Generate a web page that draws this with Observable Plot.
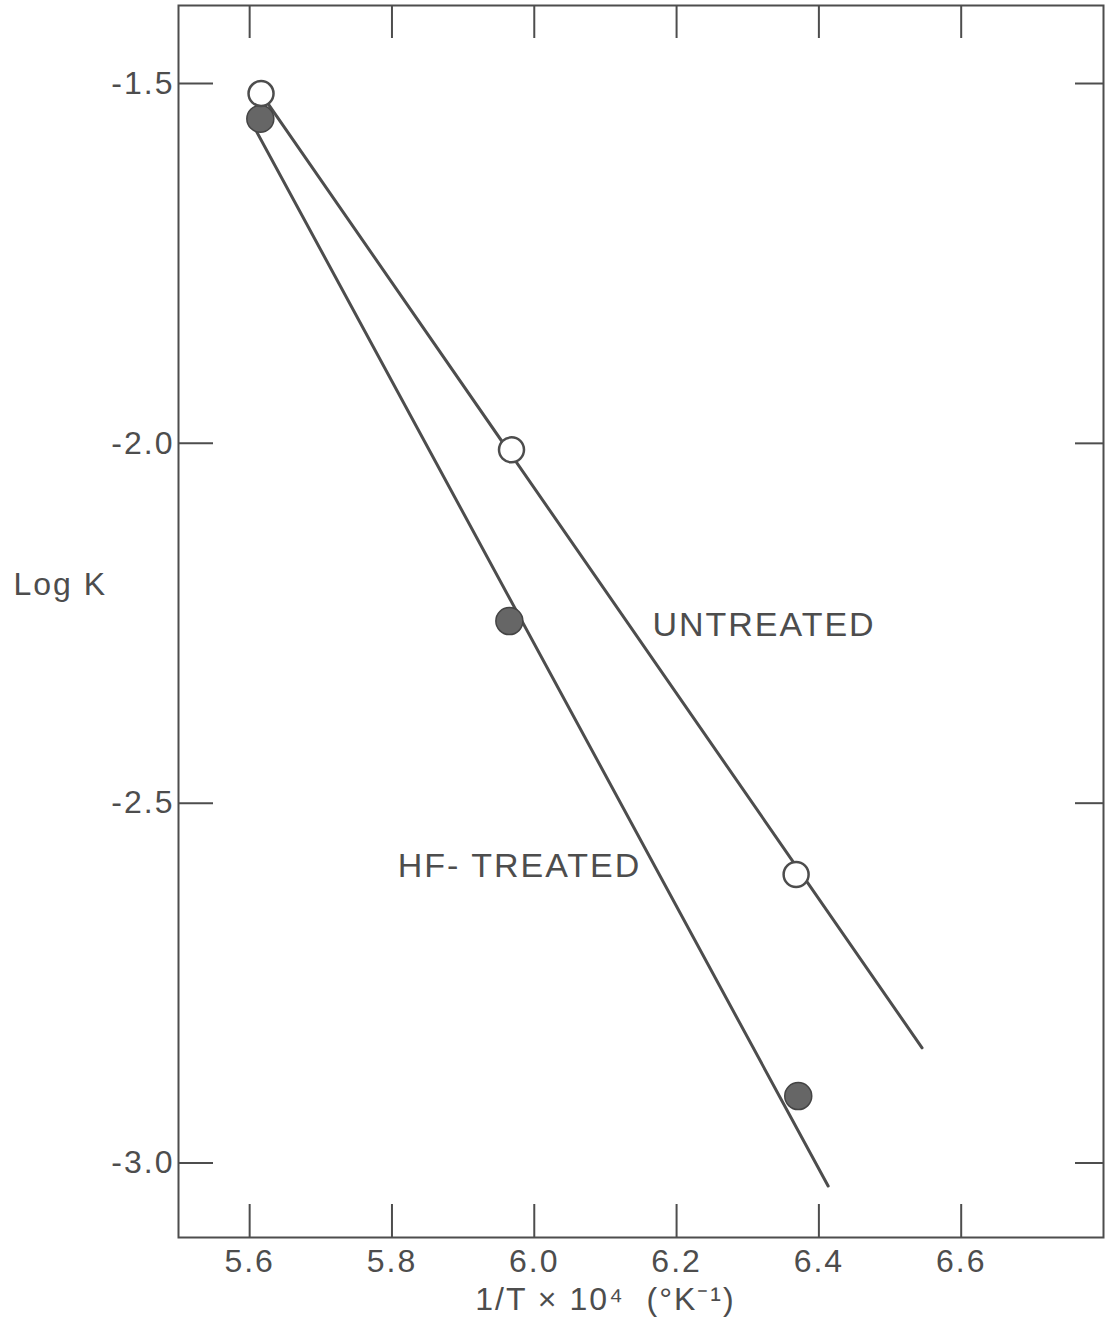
<!DOCTYPE html>
<html>
<head>
<meta charset="utf-8">
<script src="https://cdn.jsdelivr.net/npm/d3@7"></script>
<script src="https://cdn.jsdelivr.net/npm/@observablehq/plot@0.6"></script>
<style>
  html, body { margin: 0; padding: 0; background: #fff; }
  #chart svg text { letter-spacing: 2px; }
</style>
</head>
<body>
<div id="chart"></div>
<script>
// ---- data ----
const xTicks = [5.6, 5.8, 6.0, 6.2, 6.4, 6.6];
const yTicks = [-1.5, -2.0, -2.5, -3.0];

const untreatedInvT = [5.616, 5.968, 6.368];
const untreatedLogK = [-1.514, -2.009, -2.599];

const hfInvT = [5.615, 5.965, 6.371];
const hfLogK = [-1.549, -2.247, -2.907];

// drawn fit lines (end points)
const untreatedFitInvT = [5.616, 6.545];
const untreatedFitLogK = [-1.514, -2.840];
const hfFitInvT = [5.600, 6.413];
const hfFitLogK = [-1.549, -3.032];

const seriesNames = ["UNTREATED", "HF- TREATED"];
const seriesLabelInvT = [6.166, 5.808];
const seriesLabelLogK = [-2.252, -2.587];

const xLabel = "1/T × 10⁴  (°K⁻¹)";
const xLabelAt = [6.10];
const yLabel = "Log K";

// ---- build tables ----
const untreated = untreatedInvT.map((x, i) => ({x, y: untreatedLogK[i]}));
const hf = hfInvT.map((x, i) => ({x, y: hfLogK[i]}));
const untreatedFit = untreatedFitInvT.map((x, i) => ({x, y: untreatedFitLogK[i]}));
const hfFit = hfFitInvT.map((x, i) => ({x, y: hfFitLogK[i]}));
const labels = seriesNames.map((name, i) => ({name, x: seriesLabelInvT[i], y: seriesLabelLogK[i]}));

const W = 1105, H = 1332;
const mL = 178, mR = 2, mT = 5, mB = 95;
const pw = W - mL - mR, ph = H - mT - mB;
const ink = "#4d4d4d";

const chart = Plot.plot({
  width: W,
  height: H,
  marginLeft: mL,
  marginRight: mR,
  marginTop: mT,
  marginBottom: mB,
  style: {fontFamily: "Liberation Sans, Arial, sans-serif", fontSize: "32px", color: ink, background: "#fff"},
  x: {domain: [5.5, 6.8]},
  y: {domain: [-3.1035, -1.3916]},
  marks: [
    Plot.frame({stroke: ink, strokeWidth: 2}),
    // inward ticks on all four sides
    Plot.tickX(xTicks, {x: d => d, insetTop: ph - 33, stroke: ink, strokeWidth: 2}),
    Plot.tickX(xTicks, {x: d => d, insetBottom: ph - 33, stroke: ink, strokeWidth: 2}),
    Plot.tickY(yTicks, {y: d => d, insetRight: pw - 35, stroke: ink, strokeWidth: 2}),
    Plot.tickY(yTicks, {y: d => d, insetLeft: pw - 28, stroke: ink, strokeWidth: 2}),
    Plot.axisX({ticks: xTicks, tickSize: 0, tickPadding: 12, tickFormat: d => d.toFixed(1), label: null, fontSize: 32}),
    Plot.axisY({ticks: yTicks, tickSize: 0, tickPadding: 4, tickFormat: d => d.toFixed(1).replace("\u2212", "-"), label: null, fontSize: 32}),
    // fitted lines
    Plot.line(untreatedFit, {x: "x", y: "y", stroke: ink, strokeWidth: 3}),
    Plot.line(hfFit, {x: "x", y: "y", stroke: ink, strokeWidth: 3}),
    // points
    Plot.dot(hf, {x: "x", y: "y", r: 13.5, fill: "#666", stroke: "#444", strokeWidth: 1.5}),
    Plot.dot(untreated, {x: "x", y: "y", r: 12.5, fill: "#fff", stroke: ink, strokeWidth: 2.5}),
    // series labels
    Plot.text(labels, {x: "x", y: "y", text: "name", textAnchor: "start", fontSize: 34, fill: ink}),
    // axis titles
    Plot.text([xLabel], {x: xLabelAt, frameAnchor: "bottom", dy: 72, fontSize: 32, fill: ink, text: d => d}),
    Plot.text([yLabel], {frameAnchor: "left", dx: -165, dy: -37, textAnchor: "start", fontSize: 32, fill: ink, text: d => d})
  ]
});
document.getElementById("chart").appendChild(chart);
</script>
</body>
</html>
